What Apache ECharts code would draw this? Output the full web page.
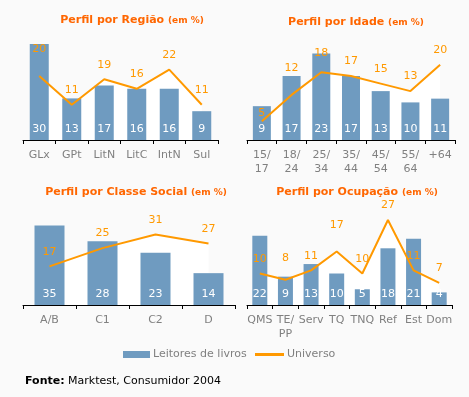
<!DOCTYPE html>
<html>
<head>
<meta charset="utf-8">
<title>Perfil dos leitores de livros</title>
<script type="text/javascript" src="https://cdn.jsdelivr.net/npm/echarts@6/dist/echarts.min.js"></script>
<style type="text/css">
html, body {margin: 0; padding: 0; background: #fafafa;}
#main {width: 469px; height: 397px;}
</style>
</head>
<body>
<div id="main"></div>
<script type="text/javascript">
// dados (em %)
var regiaoCats = ['GLx', 'GPt', 'LitN', 'LitC', 'IntN', 'Sul'];
var regiaoLeitores = [30, 13, 17, 16, 16, 9];
var regiaoUniverso = [20, 11, 19, 16, 22, 11];

var idadeCats = ['15/\n17', '18/\n24', '25/\n34', '35/\n44', '45/\n54', '55/\n64', '+64'];
var idadeLeitores = [9, 17, 23, 17, 13, 10, 11];
var idadeUniverso = [5, 12, 18, 17, 15, 13, 20];

var classeCats = ['A/B', 'C1', 'C2', 'D'];
var classeLeitores = [35, 28, 23, 14];
var classeUniverso = [17, 25, 31, 27];

var ocupCats = ['QMS', 'TE/\nPP', 'Serv', 'TQ', 'TNQ', 'Ref', 'Est', 'Dom'];
var ocupLeitores = [22, 9, 13, 10, 5, 18, 21, 4];
var ocupUniverso = [10, 8, 11, 17, 10, 27, 11, 7];

var FONT = 'DejaVu Sans';
var AZUL = '#6f9bc0';
var LARANJA = '#ff9900';

// desl: ajuste vertical de algumas etiquetas da linha (como no original)
var paineis = [
    {titulo: 'Perfil por Região ', cats: regiaoCats, leit: regiaoLeitores, univ: regiaoUniverso,
     grid: {left: 23, top: 44, width: 195, height: 96}, max: 30, bw: 19, tx: 132, ty: 15,
     desl: {0: -12}},
    {titulo: 'Perfil por Idade ', cats: idadeCats, leit: idadeLeitores, univ: idadeUniverso,
     grid: {left: 247, top: 46, width: 208, height: 94}, max: 25, bw: 18, tx: 356, ty: 17,
     desl: {0: 6, 1: -12, 2: -5}},
    {titulo: 'Perfil por Classe Social ', cats: classeCats, leit: classeLeitores, univ: classeUniverso,
     grid: {left: 23, top: 214, width: 212, height: 91}, max: 40, bw: 30, tx: 136, ty: 187,
     desl: {}},
    {titulo: 'Perfil por Ocupação ', cats: ocupCats, leit: ocupLeitores, univ: ocupUniverso,
     grid: {left: 247, top: 210.5, width: 205, height: 94.5}, max: 30, bw: 15, tx: 357, ty: 187,
     desl: {1: -7, 3: -12}}
];

var titles = [], grids = [], xAxes = [], yAxes = [], series = [];
paineis.forEach(function (p, i) {
    titles.push({
        text: '{a|' + p.titulo + '}{b|(em %)}',
        left: p.tx, top: p.ty, textAlign: 'center', padding: 0,
        textStyle: {
            rich: {
                a: {fontFamily: FONT, fontWeight: 'bold', fontSize: 11, color: '#ff6600'},
                b: {fontFamily: FONT, fontWeight: 'bold', fontSize: 9, color: '#ff6600'}
            }
        }
    });
    grids.push(p.grid);
    xAxes.push({
        type: 'category', gridIndex: i, data: p.cats, boundaryGap: true,
        axisLine: {lineStyle: {color: '#000', width: 1}},
        axisTick: {show: true, length: 4, inside: false, alignWithLabel: false, lineStyle: {color: '#000'}},
        axisLabel: {color: '#808080', fontFamily: FONT, fontSize: 11, margin: 8, lineHeight: 14, interval: 0}
    });
    yAxes.push({type: 'value', gridIndex: i, min: 0, max: p.max, show: false, splitLine: {show: false}});
    // área branca por baixo da linha
    series.push({
        name: 'fundo', type: 'line', xAxisIndex: i, yAxisIndex: i, data: p.univ,
        symbol: 'none', lineStyle: {width: 0}, areaStyle: {color: '#ffffff', opacity: 1},
        z: 1, silent: true
    });
    series.push({
        name: 'Leitores de livros', type: 'bar', xAxisIndex: i, yAxisIndex: i, data: p.leit,
        barWidth: p.bw, itemStyle: {color: AZUL}, z: 2,
        label: {show: true, position: 'insideBottom', distance: 5, color: '#fff', fontFamily: FONT, fontSize: 11}
    });
    series.push({
        name: 'Universo', type: 'line', xAxisIndex: i, yAxisIndex: i,
        data: p.univ.map(function (v, k) {
            return p.desl[k] ? {value: v, label: {offset: [0, p.desl[k]]}} : v;
        }),
        symbol: 'circle', symbolSize: 0, showSymbol: true,
        lineStyle: {color: LARANJA, width: 2}, itemStyle: {color: LARANJA}, z: 3,
        label: {show: true, position: 'top', distance: 9, color: LARANJA, fontFamily: FONT, fontSize: 11}
    });
});

var legendText = {color: '#808080', fontFamily: FONT, fontSize: 11, padding: [0, 0, 0, -2]};
var myChart = echarts.init(document.getElementById('main'));
var option = {
    backgroundColor: '#fafafa',
    animation: false,
    title: titles,
    grid: grids,
    xAxis: xAxes,
    yAxis: yAxes,
    legend: [{
        data: ['Leitores de livros'], icon: 'rect',
        left: 123, top: 349, padding: 0, itemWidth: 27, itemHeight: 7,
        textStyle: legendText
    }, {
        data: ['Universo'], icon: 'rect', itemStyle: {color: LARANJA},
        left: 255, top: 349, padding: 0, itemWidth: 29, itemHeight: 3,
        textStyle: legendText
    }],
    graphic: [{
        type: 'text', left: 25, top: 376,
        style: {
            text: '{b|Fonte:} Marktest, Consumidor 2004',
            fill: '#000', font: '11px "DejaVu Sans"',
            rich: {b: {fontWeight: 'bold', fontFamily: FONT, fontSize: 11, fill: '#000'}}
        }
    }],
    series: series
};
myChart.setOption(option);
</script>
</body>
</html>
